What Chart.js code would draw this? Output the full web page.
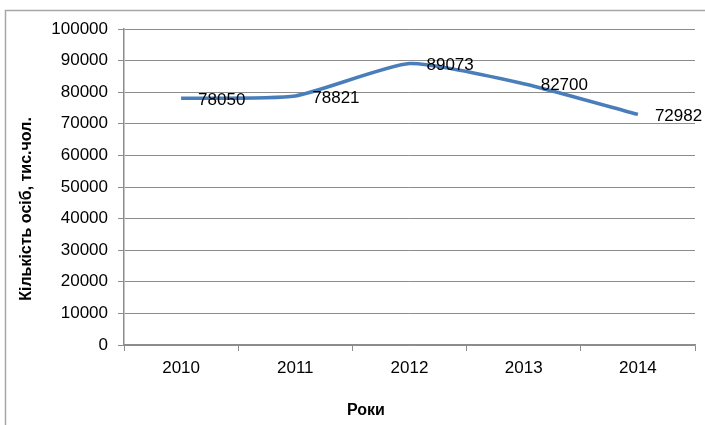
<!DOCTYPE html>
<html>
<head>
<meta charset="utf-8">
<script src="https://cdn.jsdelivr.net/npm/chart.js@4/dist/chart.umd.min.js"></script>
<style>
    body { margin: 0; background: #fff; }
    #wrap { width: 705px; height: 425px; }
</style>
</head>
<body>
<div id="wrap"><canvas id="chart" width="705" height="425"></canvas></div>
<script>
// Дані діаграми
const years = ["2010", "2011", "2012", "2013", "2014"];
const persons = [78050, 78821, 89073, 82700, 72982];
const yTicks = [0, 10000, 20000, 30000, 40000, 50000, 60000, 70000, 80000, 90000, 100000];

const FONT = "'Liberation Sans', Arial, sans-serif";
const GRID = "#8c8c8c";

// Рамка, підписи значень та назви осей
const extras = {
    id: "extras",
    afterDraw(chart) {
        const ctx = chart.ctx;
        ctx.save();
        // рамка діаграми
        ctx.strokeStyle = "#a6a6a6";
        ctx.lineWidth = 1.5;
        ctx.beginPath();
        ctx.moveTo(705, 10.5);
        ctx.lineTo(5.5, 10.5);
        ctx.lineTo(5.5, 425);
        ctx.stroke();

        // підписи значень праворуч від точок
        const meta = chart.getDatasetMeta(0);
        ctx.fillStyle = "#000";
        ctx.font = "17px " + FONT;
        ctx.textAlign = "left";
        ctx.textBaseline = "middle";
        meta.data.forEach((pt, i) => {
            ctx.fillText(String(persons[i]), pt.x + 17, pt.y + 2);
        });

        // назви осей
        ctx.font = "bold 16px " + FONT;
        ctx.textAlign = "center";
        ctx.fillText("Роки", 366, 411);
        ctx.translate(27, 209);
        ctx.rotate(-Math.PI / 2);
        ctx.fillText("Кількість осіб, тис.чол.", 0, 0);
        ctx.restore();
    }
};

new Chart(document.getElementById("chart"), {
    type: "line",
    data: {
        labels: years,
        datasets: [{
            data: persons,
            borderColor: "#4a7ebb",
            borderWidth: 3.5,
            tension: 0.18,
            pointRadius: 0,
            fill: false
        }]
    },
    options: {
        responsive: false,
        animation: false,
        layout: { padding: { top: 29, right: 10, left: 0, bottom: 0 } },
        plugins: {
            legend: { display: false },
            tooltip: { enabled: false }
        },
        scales: {
            x: {
                offset: true,
                grid: {
                    offset: true,
                    drawOnChartArea: false,
                    drawTicks: true,
                    tickLength: 6,
                    color: GRID
                },
                border: { color: GRID, width: 1.5 },
                ticks: {
                    color: "#000",
                    font: { family: FONT, size: 17 },
                    padding: 7,
                    maxRotation: 0
                },
                afterFit(scale) { scale.height = 80; }
            },
            y: {
                min: 0,
                max: 100000,
                afterBuildTicks(scale) {
                    scale.ticks = yTicks.map(v => ({ value: v }));
                },
                grid: {
                    color: GRID,
                    lineWidth: 1,
                    tickLength: 6
                },
                border: { color: GRID, width: 1.5 },
                ticks: {
                    color: "#000",
                    font: { family: FONT, size: 17 },
                    padding: 10,
                    callback: v => String(v)
                },
                afterFit(scale) { scale.width = 124; }
            }
        }
    },
    plugins: [extras]
});
</script>
</body>
</html>
